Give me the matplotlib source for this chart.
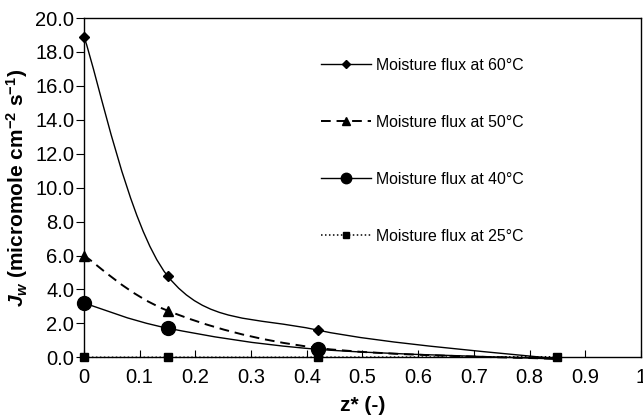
import matplotlib
matplotlib.use("Agg")
import matplotlib.pyplot as plt
from matplotlib.path import Path
from matplotlib.patches import PathPatch
from matplotlib.lines import Line2D
import numpy as np

plt.rcParams['font.family'] = ['Liberation Sans', 'DejaVu Sans']
plt.rcParams['mathtext.fontset'] = 'custom'
plt.rcParams['mathtext.rm'] = 'Liberation Sans:bold'
plt.rcParams['mathtext.bf'] = 'Liberation Sans:bold'
plt.rcParams['mathtext.it'] = 'Liberation Sans:bold:italic'

# ---- data ----
z = [0.0, 0.15, 0.42, 0.85]
flux_60 = [18.9, 4.8, 1.6, -0.1]
flux_50 = [6.0, 2.75, 0.55, -0.1]
flux_40 = [3.2, 1.72, 0.47, -0.1]
flux_25 = [0.0, 0.0, 0.0, 0.03]
labels = ["Moisture flux at 60°C", "Moisture flux at 50°C",
          "Moisture flux at 40°C", "Moisture flux at 25°C"]
xticks = [0, 0.1, 0.2, 0.3, 0.4, 0.5, 0.6, 0.7, 0.8, 0.9, 1]
xticklabels = ["0", "0.1", "0.2", "0.3", "0.4", "0.5", "0.6", "0.7", "0.8", "0.9", "1"]
yticks = [0, 2, 4, 6, 8, 10, 12, 14, 16, 18, 20]


def smooth_path(xs, ys):
    """Excel-style smoothed line: cubic Bezier through the data points."""
    P = np.column_stack([xs, ys]).astype(float)
    n = len(P)
    verts = [P[0]]
    codes = [Path.MOVETO]
    for i in range(n - 1):
        prev = P[i - 1] if i > 0 else P[i]
        nxt2 = P[i + 2] if i + 2 < n else P[i + 1]
        c1 = P[i] + (P[i + 1] - prev) / 6.0
        c2 = P[i + 1] - (nxt2 - P[i]) / 6.0
        verts += [c1, c2, P[i + 1]]
        codes += [Path.CURVE4] * 3
    return Path(verts, codes)


fig = plt.figure(figsize=(6.43, 4.17), dpi=100)
ax = fig.add_axes([0.1306, 0.1432, 0.8663, 0.8136])

series = [
    (flux_60, '-', 1.0, 'D', 5.5, [0, 1, 2], labels[0]),
    (flux_50, (0, (5, 3)), 1.4, '^', 7, [0, 1, 2], labels[1]),
    (flux_40, '-', 1.0, 'o', 10, [0, 1, 2], labels[2]),
    (flux_25, (0, (1, 1.6)), 1.1, 's', 6, [0, 1, 2, 3], labels[3]),
]
handles = []
for ys, ls, lw, mk, ms, mev, lab in series:
    patch = PathPatch(smooth_path(z, ys), facecolor='none', edgecolor='black',
                      lw=lw, linestyle=ls, clip_on=False, zorder=3)
    ax.add_patch(patch)
    ax.plot(z, ys, linestyle='none', marker=mk, markersize=ms, color='black',
            markevery=mev, clip_on=False, zorder=4)
    handles.append(Line2D([], [], color='black', lw=lw, linestyle=ls,
                          marker=mk, markersize=ms * 0.75, label=lab))

ax.set_xlim(0, 1)
ax.set_ylim(0, 20)
ax.set_xticks(xticks)
ax.set_xticklabels(xticklabels)
ax.set_yticks(yticks)
ax.set_yticklabels([f"{v:.1f}" for v in yticks])
ax.tick_params(axis='x', direction='in', length=5, width=0.8, labelsize=14.5, pad=8)
ax.tick_params(axis='y', direction='out', length=6, width=0.8, labelsize=14.5, pad=1)
for sp in ax.spines.values():
    sp.set_linewidth(1.0)
    sp.set_color('black')

ax.set_xlabel("z* (-)", fontsize=15, fontweight='bold', labelpad=6)
ax.set_ylabel(r"$\mathit{J_w}$ (micromole cm$^{-2}$ s$^{-1}$)", fontsize=15,
              fontweight='bold', labelpad=4)

leg = ax.legend(handles=handles, loc='upper left', bbox_to_anchor=(0.405, 0.915),
                frameon=False, fontsize=11.4, handlelength=3.2, handletextpad=0.3,
                labelspacing=2.65, borderpad=0.2)

fig.savefig("out.png", dpi=100)
